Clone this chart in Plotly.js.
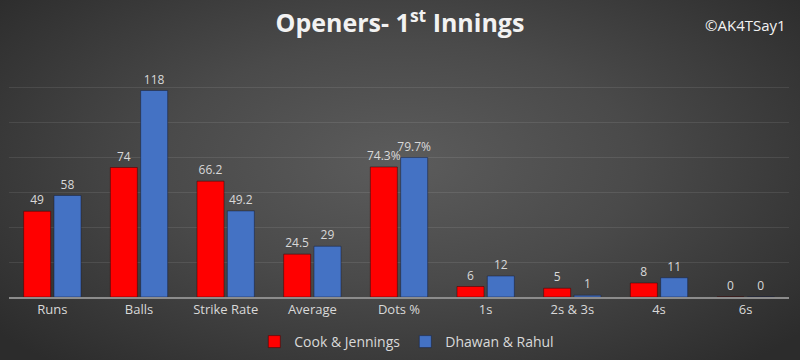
<!DOCTYPE html>
<html>
<head>
<meta charset="utf-8">
<script src="https://cdn.plot.ly/plotly-3.0.1.min.js"></script>
<style>
  html, body { margin: 0; padding: 0; }
  #chart {
    width: 800px; height: 360px;
    background: radial-gradient(ellipse 65% 75% at 50% 45%, #5c5c5c 0%, #4a4a4a 45%, #2c2c2c 100%);
  }
</style>
</head>
<body>
<div id="chart"></div>
<script>
const categories = ["Runs", "Balls", "Strike Rate", "Average", "Dots %", "1s", "2s & 3s", "4s", "6s"];
const cookJennings = [49, 74, 66.2, 24.5, 74.3, 6, 5, 8, 0];
const dhawanRahul = [58, 118, 49.2, 29, 79.7, 12, 1, 11, 0];
const labelSuffix = ["", "", "", "", "%", "", "", "", ""];

const labelFont = {family: "Open Sans, sans-serif", size: 12, color: "#d9d9d9"};

const traces = [
  {
    type: "bar", name: "Cook & Jennings", x: categories, y: cookJennings,
    text: cookJennings.map((v, i) => v + labelSuffix[i]),
    textposition: "outside", textfont: labelFont, cliponaxis: false,
    constraintext: "none", textangle: 0,
    marker: {color: "#ff0000", line: {color: "rgba(60,0,0,0.5)", width: 1}},
    hoverinfo: "x+y"
  },
  {
    type: "bar", name: "Dhawan & Rahul", x: categories, y: dhawanRahul,
    text: dhawanRahul.map((v, i) => v + labelSuffix[i]),
    textposition: "outside", textfont: labelFont, cliponaxis: false,
    constraintext: "none", textangle: 0,
    marker: {color: "#4472c4", line: {color: "rgba(20,30,60,0.5)", width: 1}},
    hoverinfo: "x+y"
  }
];

const layout = {
  width: 800, height: 360,
  paper_bgcolor: "rgba(0,0,0,0)", plot_bgcolor: "rgba(0,0,0,0)",
  margin: {l: 9, r: 11, t: 52, b: 63, autoexpand: false},
  barmode: "group", bargap: 0.3, bargroupgap: 0.11,
  font: {family: "Open Sans, sans-serif", color: "#d9d9d9"},
  title: {
    text: "<b>Openers- 1<sup>st</sup> Innings</b>",
    font: {family: "Open Sans, sans-serif", size: 25, color: "#f2f2f2"},
    x: 0.5, xanchor: "center", y: 0.935, yanchor: "middle"
  },
  xaxis: {
    showline: true, linecolor: "#8c8c8c", linewidth: 1.5, automargin: false,
    tickfont: {size: 13, color: "#d9d9d9"}, ticks: "", showgrid: false
  },
  yaxis: {
    range: [0, 140], dtick: 20, showticklabels: false, showgrid: true, automargin: false,
    gridcolor: "rgba(255,255,255,0.09)", gridwidth: 1, zeroline: false
  },
  legend: {
    orientation: "h", x: 0.51, xanchor: "center",
    yref: "container", y: 0.05, yanchor: "middle",
    font: {size: 14, color: "#d9d9d9"}, bgcolor: "rgba(0,0,0,0)",
    itemwidth: 30, tracegroupgap: 0
  },
  showlegend: true,
  annotations: [{
    text: "©AK4TSay1", xref: "paper", yref: "paper",
    x: 0.999, xanchor: "right", y: 1.11, yanchor: "middle",
    showarrow: false, font: {size: 15, color: "#f2f2f2"}
  }]
};

Plotly.newPlot("chart", traces, layout, {displayModeBar: false, staticPlot: true});
</script>
</body>
</html>
